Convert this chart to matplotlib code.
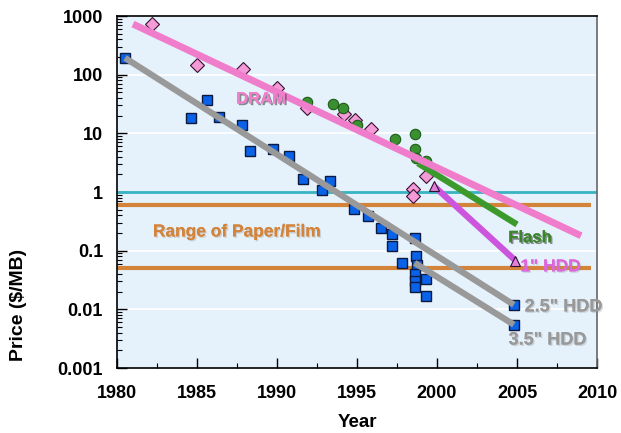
import numpy as np
import matplotlib
matplotlib.use("Agg")
import matplotlib.pyplot as plt
import matplotlib.patheffects as pe
from matplotlib.ticker import LogLocator, NullFormatter, FixedLocator

plt.rcParams['font.family'] = ['Liberation Sans', 'DejaVu Sans']
plt.rcParams['font.weight'] = 'bold'

# ==========================
# Data (price in $/MB)
# ==========================
dram_year = [1982.2, 1985.0, 1987.9, 1990.0, 1991.9, 1994.2, 1994.9, 1995.9, 1999.3, 1998.5, 1998.5]
dram_price = [730, 146, 125, 59, 27, 21.5, 17, 11.9, 1.88, 1.13, 0.86]

flash_year = [1991.9, 1993.5, 1994.1, 1995.0, 1997.4, 1998.6, 1998.6, 1998.7, 1999.3]
flash_price = [34, 32, 27, 14, 8.0, 9.8, 5.4, 3.8, 3.4]

hdd_year = [1980.5, 1984.6, 1985.6, 1986.4, 1987.8, 1988.3, 1989.75, 1990.75, 1991.6,
            1992.8, 1993.3, 1994.8, 1995.7, 1996.5, 1997.2, 1997.2, 1997.8, 1998.6,
            1998.7, 1998.75, 1998.6, 1998.6, 1998.6, 1999.3, 1999.3, 2004.8, 2004.8]
hdd_price = [193, 18.3, 37, 19, 13.8, 5.0, 5.4, 4.1, 1.66,
             1.08, 1.55, 0.51, 0.39, 0.245, 0.195, 0.12, 0.062, 0.165,
             0.081, 0.058, 0.040, 0.030, 0.024, 0.033, 0.017, 0.012, 0.0055]

# trend lines
dram_trend_year = [1981.0, 2009.0]
dram_trend_price = [730, 0.18]
flash_trend_year = [1998.8, 2005.0]
flash_trend_price = [3.1, 0.28]
hdd1_year = [1999.8, 2004.9]
hdd1_price = [1.27, 0.068]
hdd25_year = [1980.5, 2004.8]
hdd25_price = [193, 0.012]
hdd35_year = [1998.6, 2004.8]
hdd35_price = [0.062, 0.0055]

paper_range = [0.6, 0.05]
one_dollar = 1.0

# ==========================
# Figure
# ==========================
fig = plt.figure(figsize=(6.21, 4.33), dpi=100)
ax = fig.add_axes([0.1884, 0.150, 0.7730, 0.813])
ax.set_facecolor('#E5F1FB')
ax.set_yscale('log')
ax.set_xlim(1980, 2010)
ax.set_ylim(0.001, 1000)

for v in [1000, 100, 10, 0.1, 0.01]:
    ax.axhline(v, color='white', lw=1.2, zorder=1)

ax.axhline(one_dollar, color='#38B4C4', lw=2, zorder=2)
for v in paper_range:
    ax.plot([1980, 2009.6], [v, v], color='#D4843A', lw=3, zorder=2, solid_capstyle='butt')

# points
ax.plot(hdd_year, hdd_price, 's', ms=7.5, mfc='#0A62E8', mec='#0B1A40', mew=1, zorder=3)
ax.plot(dram_year, dram_price, 'D', ms=7, mfc='#F49AD6', mec='#3A1030', mew=0.8, zorder=3)
ax.plot(flash_year, flash_price, 'o', ms=7.5, mfc='#3A9030', mec='#1E5A18', mew=0.8, zorder=3)

# trend lines
ax.plot(flash_trend_year, flash_trend_price, color='#3C9A2C', lw=4.5, zorder=4, solid_capstyle='butt')
ax.plot(dram_trend_year, dram_trend_price, color='#F07CCC', lw=5, zorder=5, solid_capstyle='butt')
ax.plot(hdd1_year, hdd1_price, color='#CC55DD', lw=4.5, zorder=6, solid_capstyle='butt')
ax.plot(hdd1_year, hdd1_price, '^', ms=7, mfc='#E080D8', mec='#301030', mew=0.8, zorder=7, ls='none')
ax.plot(hdd25_year, hdd25_price, color='#999999', lw=4.5, zorder=4, solid_capstyle='butt')
ax.plot(hdd35_year, hdd35_price, color='#999999', lw=4.5, zorder=4, solid_capstyle='butt')

# labels
shadow = [pe.withSimplePatchShadow(offset=(1.2, -1.2), shadow_rgbFace='#444444', alpha=0.6), pe.Normal()]
light_shadow = [pe.withSimplePatchShadow(offset=(1, -1), shadow_rgbFace='#888888', alpha=0.3), pe.Normal()]
ax.text(1989.0, 38.5, 'DRAM', color='#EE80CC', fontsize=12, fontweight='bold',
        ha='center', va='center', path_effects=shadow, zorder=8)
ax.text(2005.8, 0.166, 'Flash', color='#3A8429', fontsize=12, fontweight='bold',
        ha='center', va='center', path_effects=shadow, zorder=8)
ax.text(2007.1, 0.053, '1" HDD', color='#DD66DD', fontsize=12.5, fontweight='bold',
        ha='center', va='center', path_effects=light_shadow, zorder=8)
ax.text(1987.5, 0.209, 'Range of Paper/Film', color='#D4843A', fontsize=12.5, fontweight='bold',
        ha='center', va='center', path_effects=light_shadow, zorder=8)
ax.text(2007.9, 0.011, '2.5" HDD', color='#999999', fontsize=13, fontweight='bold',
        ha='center', va='center', path_effects=light_shadow, zorder=8)
ax.text(2006.9, 0.003, '3.5" HDD', color='#999999', fontsize=13, fontweight='bold',
        ha='center', va='center', path_effects=light_shadow, zorder=8)

# axes / ticks
ax.xaxis.set_major_locator(FixedLocator(np.arange(1980, 2011, 5)))
ax.xaxis.set_minor_locator(FixedLocator(np.arange(1982.5, 2010, 5)))
ax.yaxis.set_minor_locator(LogLocator(base=10, subs=np.arange(2, 10), numticks=20))
ax.yaxis.set_minor_formatter(NullFormatter())
ax.set_yticks([0.001, 0.01, 0.1, 1, 10, 100, 1000])
ax.set_yticklabels(['0.001', '0.01', '0.1', '1', '10', '100', '1000'])
ax.tick_params(axis='both', which='major', direction='in', length=7, width=1,
               labelsize=13, top=False, right=False)
ax.tick_params(axis='x', which='major', pad=12)
ax.tick_params(axis='y', which='major', pad=10)
ax.tick_params(axis='both', which='minor', direction='in', length=3.5, width=0.8,
               top=False, right=False)
for lab in ax.get_xticklabels() + ax.get_yticklabels():
    lab.set_fontweight('bold')

for s in ax.spines.values():
    s.set_linewidth(1.2)
ax.spines['right'].set_color('#666666')

ax.set_xlabel('Year', fontsize=13.5, fontweight='bold', labelpad=9)
fig.text(19 / 621, 1 - 305 / 433, 'Price ($/MB)', rotation=90, fontsize=14,
         fontweight='bold', ha='center', va='center')

fig.savefig('out.png', dpi=100)
